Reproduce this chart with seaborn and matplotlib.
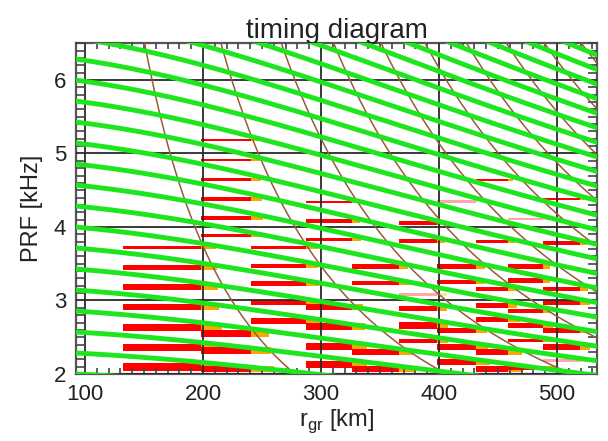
import numpy as np
import pandas as pd
import matplotlib
matplotlib.use("Agg")
import matplotlib.pyplot as plt
import seaborn as sns
from matplotlib.ticker import MultipleLocator, FixedLocator

# ---- acquisition geometry -------------------------------------------------
C_KM_PER_MS = 299.792458
orbit_height_km = 520.0
earth_radius_km = 6371.0
tx_offset_ms = 0.027          # transmit event offset inside the PRI

# echo orders of the transmit-blocking bands and of the nadir returns
tx_orders = list(range(7, 35))
nadir_orders = list(range(1, 12))

# ---- swath beams: ground-range edges [km] ---------------------------------
beam_edges_km = [132.0, 198.0, 241.0, 287.0, 326.0, 366.0, 398.0, 431.0, 458.5, 488.0, 519.5]

# ---- valid timing windows --------------------------------------------------
bar_beam = [0, 0, 0, 0, 0, 0, 0,
            1, 1, 1, 1, 1, 1, 1, 1, 1,
            2, 2, 2, 2, 2,
            3, 3, 3, 3, 3, 3, 3,
            4, 4, 4, 4,
            5, 5, 5, 5, 5, 5,
            6, 6, 6, 6, 6, 6,
            7, 7, 7, 7, 7, 7, 7,
            8, 8, 8, 8, 8, 8, 8,
            9, 9, 9, 9, 9, 9, 9]
bar_prf_khz = [3.72, 3.45, 3.18, 2.91, 2.63, 2.36, 2.09,
               5.18, 4.91, 4.65, 4.38, 4.12, 3.88, 2.55, 2.32, 2.07,
               3.72, 3.47, 3.23, 2.97, 2.72,
               4.34, 4.08, 3.83, 2.91, 2.65, 2.37, 2.13,
               3.46, 3.24, 2.30, 2.07,
               4.05, 3.81, 3.08, 2.89, 2.66, 2.45,
               4.35, 3.46, 3.25, 2.59, 2.37, 2.16,
               4.64, 3.80, 3.16, 2.93, 2.74, 2.30, 2.07,
               4.11, 3.46, 3.27, 2.86, 2.66, 2.46, 2.08,
               4.38, 3.78, 3.16, 2.97, 2.59, 2.37, 2.18]
bar_span_khz = [0.045, 0.060, 0.075, 0.090, 0.100, 0.105, 0.110,
                0.030, 0.038, 0.045, 0.052, 0.045, 0.038, 0.090, 0.100, 0.090,
                0.045, 0.060, 0.068, 0.075, 0.082,
                0.030, 0.045, 0.045, 0.075, 0.090, 0.090, 0.090,
                0.060, 0.060, 0.090, 0.090,
                0.060, 0.045, 0.045, 0.060, 0.090, 0.045,
                0.035, 0.060, 0.060, 0.075, 0.075, 0.075,
                0.038, 0.045, 0.060, 0.060, 0.060, 0.075, 0.075,
                0.035, 0.060, 0.060, 0.060, 0.075, 0.045, 0.060,
                0.038, 0.045, 0.060, 0.060, 0.075, 0.075, 0.045]
bar_tail_km = [210.8, 211.6, 212.5, 213.8, 215.9, 217.8, 220.1,
               248.3, 248.3, 249.2, 250.0, 250.9, 250.9, 256.0, 257.7, 260.2,
               297.5, 297.5, 298.3, 299.2, 300.9,
               331.4, 333.1, 334.0, 335.6, 337.3, 339.0, 339.0,
               373.8, 375.5, 378.0, 379.7,
               405.0, 405.0, 406.8, 406.8, 407.6, 407.6,
               432.2, 439.0, 439.0, 440.7, 441.5, 443.2,
               462.7, 464.4, 466.1, 466.1, 468.7, 470.4, 471.2,
               494.0, 494.0, 494.0, 495.0, 496.6, 496.6, 499.0,
               525.5, 525.5, 526.3, 528.0, 528.0, 528.0, 528.0]
bar_faint = [0, 0, 0, 0, 0, 0, 0,
             0, 0, 0, 0, 0, 0, 0, 0, 0,
             0, 0, 0, 0, 0,
             0, 0, 0, 0, 0, 0, 0,
             0, 0, 0, 0,
             0, 0, 1, 0, 0, 0,
             1, 0, 0, 0, 0, 0,
             0, 0, 0, 0, 0, 0, 0,
             1, 0, 0, 0, 0, 0, 0,
             0, 0, 0, 0, 0, 0, 1]

x_limits = (92.4, 534.0)
y_limits = (2.0, 6.5)
x_major = [100, 200, 300, 400, 500]
y_major = [2, 3, 4, 5, 6]


def echo_delay_ms(r_gr):
    """Two-way delay to a ground point at ground range r_gr (spherical earth)."""
    a = earth_radius_km
    b = earth_radius_km + orbit_height_km
    slant = np.sqrt(a * a + b * b - 2 * a * b * np.cos(r_gr / a))
    return 2.0 * slant / C_KM_PER_MS


r_axis = np.linspace(80.0, 550.0, 500)
delay = echo_delay_ms(r_axis)
nadir_delay = 2.0 * orbit_height_km / C_KM_PER_MS

tx_df = pd.concat([pd.DataFrame({"r": r_axis, "prf": n / (delay - tx_offset_ms), "order": n})
                   for n in tx_orders], ignore_index=True)
nad_df = pd.concat([pd.DataFrame({"r": r_axis, "prf": m / (delay - nadir_delay), "order": m})
                    for m in nadir_orders], ignore_index=True)

sns.set_theme(style="white")
plt.rcParams["font.family"] = ["Liberation Sans", "DejaVu Sans"]
plt.rcParams["mathtext.fontset"] = "custom"
plt.rcParams["mathtext.rm"] = "Liberation Sans"

fig = plt.figure(figsize=(6.08, 4.41), dpi=100)
ax = fig.add_axes([0.125, 0.152, 0.857, 0.750])

# timing windows: red = usable swath, orange = range margin
for b, prf, span, tail, faint in zip(bar_beam, bar_prf_khz, bar_span_khz, bar_tail_km, bar_faint):
    near, far = beam_edges_km[b], beam_edges_km[b + 1]
    alpha = 0.35 if faint else 1.0
    ax.barh(prf, far - near, left=near, height=span, color="#ff0000",
            alpha=alpha, linewidth=0, zorder=1)
    ax.barh(prf, tail - far, left=far, height=span, color="#ffa500",
            alpha=alpha, linewidth=0, zorder=1)

# nadir echo curves
sns.lineplot(data=nad_df, x="r", y="prf", units="order", estimator=None,
             color="#9a5a3a", linewidth=1.1, ax=ax, zorder=3, sort=False)
# transmit-blocking bands
sns.lineplot(data=tx_df, x="r", y="prf", units="order", estimator=None,
             color="#1ee61e", linewidth=3.5, ax=ax, zorder=4, sort=False)

ax.set_xlim(*x_limits)
ax.set_ylim(*y_limits)

ax.xaxis.set_major_locator(FixedLocator(x_major))
ax.yaxis.set_major_locator(FixedLocator(y_major))
ax.xaxis.set_minor_locator(MultipleLocator(10))
ax.yaxis.set_minor_locator(MultipleLocator(0.1))
ax.grid(True, which="major", color="#2a2a2a", linewidth=1.3)
ax.set_axisbelow(False)
ax.tick_params(which="major", length=0, labelsize=16, pad=7, colors="#222222")
ax.tick_params(axis="x", which="minor", direction="in", length=4.5, width=1.2, color="#444444",
               top=True, bottom=True)
ax.tick_params(axis="y", which="minor", direction="in", length=6.5, width=1.2, color="#444444",
               left=True, right=True)

for s in ax.spines.values():
    s.set_color("#555555")
    s.set_linewidth(1.6)

ax.set_xlabel(r"r$_\mathregular{gr}$ [km]", fontsize=17, color="#222222", labelpad=2)
ax.set_ylabel("PRF [kHz]", fontsize=17, color="#222222", labelpad=8)
ax.set_title("timing diagram", fontsize=20, color="#222222", pad=4)

fig.savefig("out.png", dpi=100)
